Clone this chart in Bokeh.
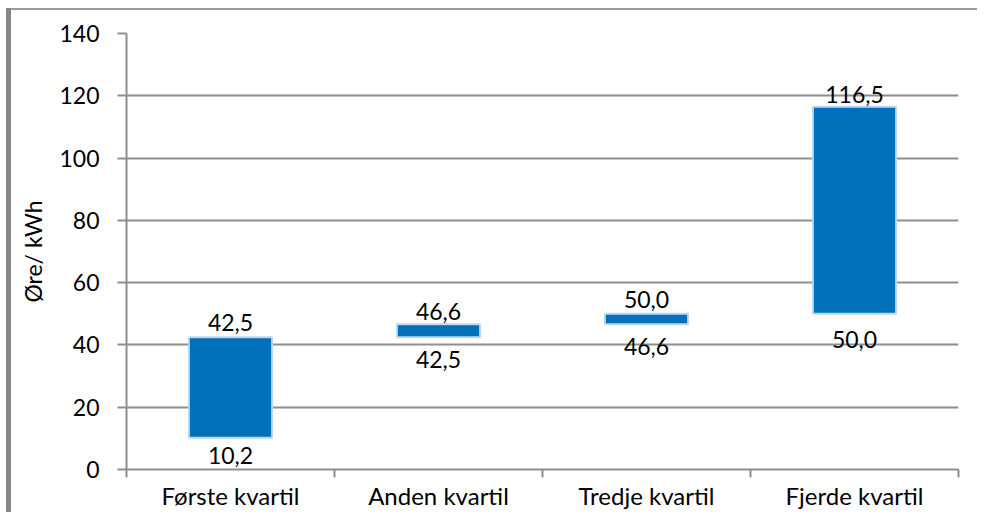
from bokeh.plotting import figure
from bokeh.models import Range1d, FixedTicker, ColumnDataSource
from bokeh.core.properties import value
from bokeh.embed import file_html
from bokeh.resources import INLINE

# ---- data ----
categories = ["Første kvartil", "Anden kvartil", "Tredje kvartil", "Fjerde kvartil"]
low = [10.2, 42.5, 46.6, 50.0]
high = [42.5, 46.6, 50.0, 116.5]
y_ticks = [0, 20, 40, 60, 80, 100, 120, 140]
y_title = "Øre/ kWh"

# ---- layout / style ----
FONT = "Lato"
FS = "23px"
FS_X = "24px"
BAR_COLOR = "#0070BA"
EDGE_COLOR = "#BDD7EE"
GRID_COLOR = "#8E8E8E"
FRAME_COLOR = "#878787"
low_label_offsets = [18, 22, 22, 26]     # px below bar bottom
high_label_offsets = [15, 13, 14, 12]    # px above bar top
W, H = 977, 512

def fmt(v):
    return f"{v:.1f}".replace(".", ",")

xs = [i + 0.5 for i in range(len(categories))]
src = ColumnDataSource(dict(
    x=xs, low=low, high=high,
    low_txt=[fmt(v) for v in low], high_txt=[fmt(v) for v in high],
    low_off=low_label_offsets, high_off=[-o for o in high_label_offsets],
))

p = figure(width=W, height=H, output_backend="svg", toolbar_location=None,
           x_range=Range1d(0, len(categories)), y_range=Range1d(0, 140),
           min_border_left=126, min_border_right=W - 958, min_border_top=33,
           min_border_bottom=H - 469)
p.outline_line_color = None
p.background_fill_color = "white"
p.border_fill_color = None
# outer chart-area frame (left and top edges), painted behind the transparent border
p.styles = {
    "background": (
        f"linear-gradient({FRAME_COLOR},{FRAME_COLOR}) 6px 8px / 5px calc(100% - 8px) no-repeat, "
        f"linear-gradient(#9a9a9a,#9a9a9a) 9px 8px / calc(100% - 9px) 2px no-repeat, white"
    )
}

p.vbar(x="x", bottom="low", top="high", width=0.4, source=src,
       fill_color=BAR_COLOR, line_color=EDGE_COLOR, line_width=2)

p.text(x="x", y="low", text="low_txt", y_offset="low_off", source=src,
       text_align="center", text_baseline="middle",
       text_font=value(FONT), text_font_size=FS, text_color="black")
p.text(x="x", y="high", text="high_txt", y_offset="high_off", source=src,
       text_align="center", text_baseline="middle",
       text_font=value(FONT), text_font_size=FS, text_color="black")

# y axis
ya = p.yaxis[0]
ya.ticker = FixedTicker(ticks=y_ticks)
ya.axis_line_color = GRID_COLOR
ya.axis_line_width = 2
ya.major_tick_line_color = GRID_COLOR
ya.major_tick_line_width = 2
ya.major_tick_out = 9
ya.major_tick_in = 0
ya.minor_tick_line_color = None
ya.major_label_text_font = FONT
ya.major_label_text_font_size = FS
ya.major_label_text_color = "black"
ya.major_label_standoff = 18
ya.axis_label = y_title
ya.axis_label_text_font = FONT
ya.axis_label_text_font_size = FS
ya.axis_label_text_font_style = "normal"
ya.axis_label_text_color = "black"
ya.axis_label_standoff = 9

# x axis: labels at centers, ticks at boundaries
xa = p.xaxis[0]
xa.ticker = FixedTicker(ticks=xs, minor_ticks=list(range(len(categories) + 1)))
xa.major_label_overrides = {x: c for x, c in zip(xs, categories)}
xa.axis_line_color = GRID_COLOR
xa.axis_line_width = 2
xa.major_tick_line_color = None
xa.major_tick_out = 0
xa.major_tick_in = 0
xa.minor_tick_line_color = GRID_COLOR
xa.minor_tick_line_width = 2
xa.minor_tick_out = 8
xa.minor_tick_in = 0
xa.major_label_text_font = FONT
xa.major_label_text_font_size = FS_X
xa.major_label_text_color = "black"
xa.major_label_standoff = 3

p.xgrid.grid_line_color = None
p.ygrid.ticker = FixedTicker(ticks=y_ticks)
p.ygrid.grid_line_color = GRID_COLOR
p.ygrid.grid_line_width = 2

open("out.html", "w").write(file_html(p, INLINE))
